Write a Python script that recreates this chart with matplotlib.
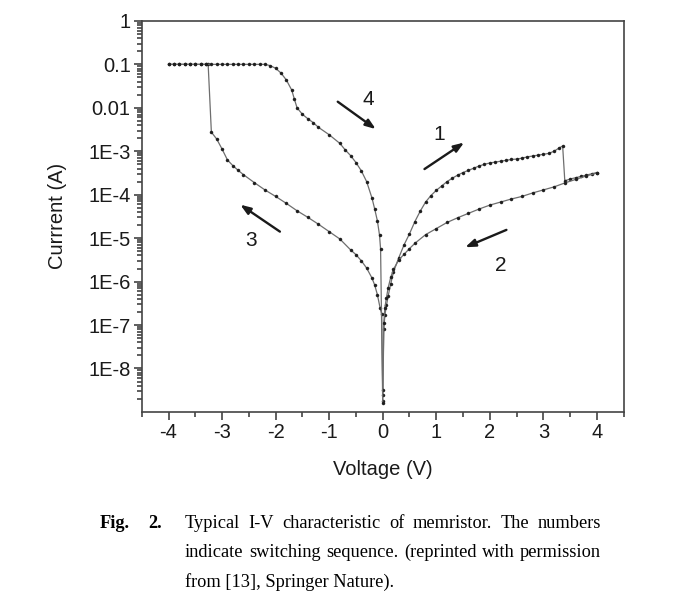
import numpy as np
import matplotlib.pyplot as plt
from matplotlib.ticker import FixedLocator, LogLocator, MultipleLocator, NullFormatter

plt.rcParams["font.family"] = ["Liberation Sans", "DejaVu Sans"]
plt.rcParams["axes.unicode_minus"] = False

# ── Data: voltage (V) and log10 of current (A) ──
# 1: 0 -> +3.36 V (upper branch), then reset jump and on to +4 V
v_set = [0.0, 0.02, 0.04, 0.07, 0.10, 0.15, 0.2, 0.3, 0.4, 0.5, 0.6, 0.7, 0.8, 0.9,
         1.0, 1.1, 1.2, 1.3, 1.4, 1.5, 1.6, 1.7, 1.8, 1.9, 2.0, 2.1, 2.2, 2.3, 2.4,
         2.5, 2.6, 2.7, 2.8, 2.9, 3.0, 3.1, 3.2, 3.3, 3.36,
         3.40, 3.5, 3.6, 3.7, 3.8, 3.9, 4.0]
logi_set = [-8.75, -7.1, -6.77, -6.55, -6.34, -6.05, -5.78, -5.45, -5.15, -4.9, -4.62,
            -4.38, -4.17, -4.02, -3.9, -3.8, -3.7, -3.62, -3.55, -3.49, -3.44, -3.39,
            -3.34, -3.3, -3.27, -3.25, -3.23, -3.21, -3.19, -3.18, -3.16, -3.13, -3.11,
            -3.09, -3.07, -3.05, -3.0, -2.92, -2.88,
            -3.68, -3.64, -3.61, -3.58, -3.55, -3.52, -3.49]

# 2: +4 V -> 0 (lower branch)
v_back = [4.0, 3.8, 3.6, 3.4, 3.2, 3.0, 2.8, 2.6, 2.4, 2.2, 2.0, 1.8, 1.6, 1.4, 1.2,
          1.0, 0.8, 0.6, 0.5, 0.4, 0.3, 0.2, 0.15, 0.1, 0.07, 0.04, 0.02, 0.0]
logi_back = [-3.50, -3.57, -3.65, -3.73, -3.82, -3.89, -3.96, -4.04, -4.10, -4.17,
             -4.24, -4.33, -4.43, -4.53, -4.64, -4.78, -4.92, -5.12, -5.24, -5.37,
             -5.5, -5.72, -5.9, -6.15, -6.37, -6.6, -6.95, -8.6]

# 3: 0 -> -3.2 V (lower branch), jump to compliance, on to -4 V
v_neg = [0.0, -0.02, -0.05, -0.1, -0.15, -0.2, -0.3, -0.4, -0.5, -0.6, -0.8, -1.0,
         -1.2, -1.4, -1.6, -1.8, -2.0, -2.2, -2.4, -2.6, -2.7, -2.8, -2.9, -3.0,
         -3.1, -3.2,
         -3.26, -3.3, -3.4, -3.5, -3.6, -3.7, -3.8, -3.9, -4.0]
logi_neg = [-8.5, -6.75, -6.6, -6.3, -6.08, -5.92, -5.69, -5.52, -5.38, -5.27, -5.02,
            -4.85, -4.68, -4.52, -4.37, -4.2, -4.04, -3.89, -3.72, -3.54, -3.44, -3.33,
            -3.2, -2.95, -2.72, -2.56,
            -1.0, -1.0, -1.0, -1.0, -1.0, -1.0, -1.0, -1.0, -1.0]

# 4: -4 V -> 0 (upper branch, compliance then decay)
v_ret = [-4.0, -3.9, -3.8, -3.7, -3.6, -3.5, -3.4, -3.3, -3.2, -3.1, -3.0, -2.9, -2.8,
         -2.7, -2.6, -2.5, -2.4, -2.3, -2.2, -2.1, -2.0, -1.9, -1.8, -1.7, -1.65,
         -1.6, -1.5, -1.4, -1.3, -1.2, -1.0, -0.8, -0.7, -0.6, -0.5, -0.4, -0.3,
         -0.2, -0.15, -0.1, -0.06, -0.04, 0.0]
logi_ret = [-1.0, -1.0, -1.0, -1.0, -1.0, -1.0, -1.0, -1.0, -1.0, -1.0, -1.0, -1.0,
            -1.0, -1.0, -1.0, -1.0, -1.0, -1.0, -1.0, -1.03, -1.09, -1.2, -1.36, -1.59,
            -1.8, -2.0, -2.15, -2.25, -2.34, -2.45, -2.62, -2.82, -2.97, -3.1, -3.26,
            -3.45, -3.7, -4.08, -4.33, -4.6, -4.93, -5.25, -8.8]

branches = [(v_set, logi_set), (v_back, logi_back), (v_neg, logi_neg), (v_ret, logi_ret)]

# sweep labels: text, text position, arrow tail, arrow head (V, log10 I)
seq_labels = ["1", "2", "3", "4"]
seq_text = [(1.05, -2.62), (2.2, -5.62), (-2.45, -5.06), (-0.27, -1.80)]
seq_tail = [(0.78, -3.41), (2.31, -4.81), (-1.92, -4.85), (-0.84, -1.86)]
seq_head = [(1.52, -2.80), (1.54, -5.21), (-2.66, -4.23), (-0.13, -2.49)]

y_ticks = [1, 0.1, 0.01, 1e-3, 1e-4, 1e-5, 1e-6, 1e-7, 1e-8]
y_labels = ["1", "0.1", "0.01", "1E-3", "1E-4", "1E-5", "1E-6", "1E-7", "1E-8"]

cap_lines = ["Typical I-V characteristic of memristor. The numbers",
             "indicate switching sequence. (reprinted with permission",
             "from [13], Springer Nature)."]

fig = plt.figure(figsize=(6.75, 5.97), dpi=100)
ax = fig.add_axes([0.210, 0.310, 0.714, 0.655])

for v, lg in branches:
    ax.plot(v, 10.0 ** np.array(lg), color="#6e6e6e", lw=0.9, marker="o", ms=2.2,
            mfc="#1e1e1e", mec="#1e1e1e", mew=0.3)

for lab, tp, tail, head in zip(seq_labels, seq_text, seq_tail, seq_head):
    ax.annotate("", xy=(head[0], 10 ** head[1]), xytext=(tail[0], 10 ** tail[1]),
                arrowprops=dict(arrowstyle="-|>,head_length=0.6,head_width=0.22",
                                color="#1a1a1a", lw=1.7, shrinkA=0, shrinkB=0))
    ax.text(tp[0], 10 ** tp[1], lab, fontsize=15, ha="center", va="center",
            color="#1a1a1a")

ax.set_yscale("log")
ax.set_xlim(-4.5, 4.5)
ax.set_ylim(1e-9, 1)
ax.xaxis.set_major_locator(MultipleLocator(1))
ax.xaxis.set_minor_locator(MultipleLocator(0.5))
ax.yaxis.set_major_locator(FixedLocator(y_ticks))
ax.set_yticklabels(y_labels)
ax.yaxis.set_minor_locator(LogLocator(base=10, subs=np.arange(2, 10), numticks=20))
ax.yaxis.set_minor_formatter(NullFormatter())
ax.tick_params(which="both", direction="out", top=False, right=False,
               labelsize=14.5, colors="#333333", labelcolor="#1a1a1a", width=1.1)
ax.tick_params(which="major", length=6, pad=2)
ax.tick_params(which="minor", length=3.5)
for s in ax.spines.values():
    s.set_linewidth(1.2)
    s.set_color("#444444")

ax.set_xlabel("Voltage (V)", fontsize=14.5, color="#1a1a1a", labelpad=13)
ax.set_ylabel("Currrent (A)", fontsize=14.5, color="#1a1a1a", labelpad=15)

# ── Caption, justified between x=185 and x=601 px ───────────────────
cap_font = ["Liberation Serif", "DejaVu Serif"]
cap_size = 13.2
W, H = 675, 597
fig.text(100 / W, 1 - 523 / H, "Fig.", fontsize=cap_size, fontweight="bold",
         family=cap_font, va="center")
fig.text(162 / W, 1 - 523 / H, "2.", fontsize=cap_size, fontweight="bold",
         family=cap_font, va="center", ha="right")

renderer = fig.canvas.get_renderer()
x0, x1 = 185, 601
for i, line in enumerate(cap_lines):
    y = 1 - (523 + 29.5 * i) / H
    words = line.split(" ")
    if i == len(cap_lines) - 1:
        fig.text(x0 / W, y, line, fontsize=cap_size, family=cap_font, va="center")
        continue
    objs = [fig.text(0, y, w, fontsize=cap_size, family=cap_font, va="center")
            for w in words]
    widths = [o.get_window_extent(renderer).width for o in objs]
    gap = (x1 - x0 - sum(widths)) / (len(words) - 1)
    x = x0
    for o, w in zip(objs, widths):
        o.set_x(x / W)
        x += w + gap

fig.savefig("out.png", dpi=100)
